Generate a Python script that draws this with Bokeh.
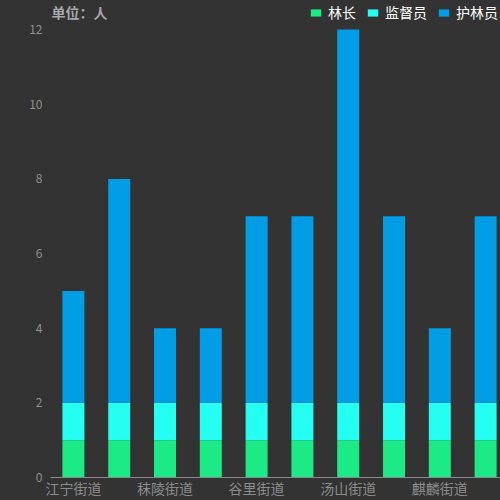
from bokeh.plotting import figure
from bokeh.models import ColumnDataSource, Range1d, FixedTicker, Legend, LegendItem, Label
from bokeh.embed import file_html
from bokeh.resources import INLINE

# 街道 (only every other label is shown on the axis)
streets = ["江宁街道", "东山街道", "秣陵街道", "淳化街道", "谷里街道",
           "湖熟街道", "汤山街道", "禄口街道", "麒麟街道", "横溪街道"]
leaders = [1, 1, 1, 1, 1, 1, 1, 1, 1, 1]      # 林长
supervisors = [1, 1, 1, 1, 1, 1, 1, 1, 1, 1]  # 监督员
rangers = [3, 6, 2, 2, 5, 5, 10, 5, 2, 5]     # 护林员
y_ticks = [0, 2, 4, 6, 8, 10, 12]

series = ["林长", "监督员", "护林员"]
colors = ["#1bea87", "#25fff1", "#019ee6"]
FONT = "Noto Sans CJK SC"

source = ColumnDataSource(dict(
    x=list(range(len(streets))),
    林长=leaders,
    监督员=supervisors,
    护林员=rangers,
))

p = figure(width=500, height=500, output_backend="svg", toolbar_location=None,
           x_range=Range1d(-0.5, 9.325), y_range=Range1d(0, 12.78),
           min_border_left=50, min_border_right=0, min_border_top=0, min_border_bottom=23)
p.background_fill_color = "#333333"
p.border_fill_color = "#333333"
p.styles = {"background-color": "#333333"}
p.outline_line_color = None
p.grid.visible = False

renderers = p.vbar_stack(series, x="x", width=0.48, color=colors, line_alpha=0, source=source)

# x axis
p.xaxis.ticker = FixedTicker(ticks=list(range(0, len(streets), 2)))
p.xaxis.major_label_overrides = {i: streets[i] for i in range(0, len(streets), 2)}
p.xaxis.axis_line_color = "#8a8a8a"
p.xaxis.major_tick_line_color = None
p.xaxis.minor_tick_line_color = None
p.xaxis.major_tick_out = 0
p.xaxis.major_tick_in = 0
p.xaxis.minor_tick_out = 0
p.xaxis.major_label_text_color = "#8c8c8c"
p.xaxis.major_label_text_font = FONT
p.xaxis.major_label_text_font_size = "14px"
p.xaxis.major_label_standoff = 0

# y axis
p.yaxis.ticker = FixedTicker(ticks=y_ticks)
p.yaxis.axis_line_color = None
p.yaxis.major_tick_line_color = None
p.yaxis.minor_tick_line_color = None
p.yaxis.major_tick_out = 0
p.yaxis.major_tick_in = 0
p.yaxis.minor_tick_out = 0
p.yaxis.major_label_text_color = "#909090"
p.yaxis.major_label_text_font = FONT
p.yaxis.major_label_text_font_size = "12px"
p.yaxis.major_label_standoff = 8

# screen units are measured from the frame's lower left corner; kept inside the frame
unit = Label(x=1, y=466, x_units="screen", y_units="screen", level="overlay",
             text="单位：人", text_color="#a8a8a8",
             text_font=FONT, text_font_size="14px", text_font_style="bold",
             text_baseline="middle")
p.add_layout(unit)

legend = Legend(items=[LegendItem(label=s, renderers=[r]) for s, r in zip(series, renderers)],
                orientation="horizontal", location="top_right",
                background_fill_alpha=0, border_line_color=None,
                label_text_color="#ffffff", label_text_font=FONT, label_text_font_size="14px",
                glyph_width=13, glyph_height=9, label_standoff=6, spacing=10,
                padding=0, margin=2)
p.add_layout(legend)

open("out.html", "w").write(file_html(p, INLINE))
